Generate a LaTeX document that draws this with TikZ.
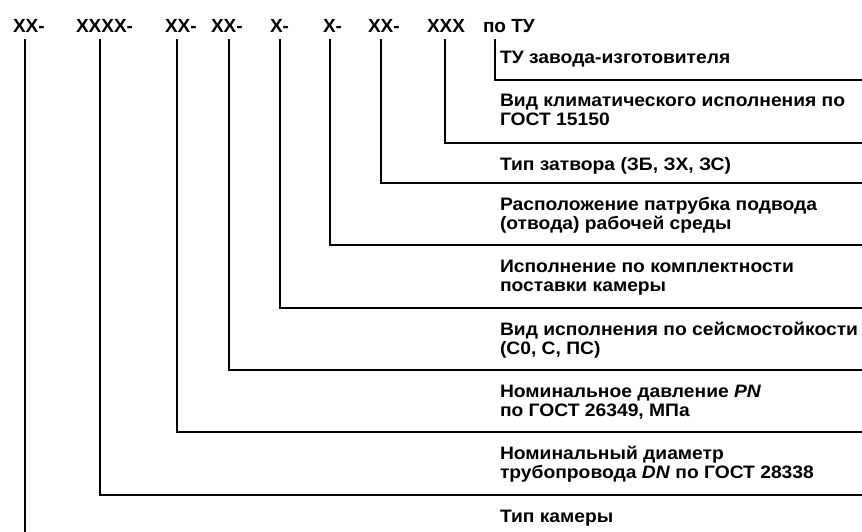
\documentclass[tikz,border=0pt]{standalone}
\usepackage{fontspec}
\setmainfont{Liberation Sans}
\newfontfamily\descfont[FakeStretch=1.07]{Liberation Sans}
\begin{document}
\begin{tikzpicture}[x=1pt,y=-1pt,
  code/.style={font=\fontsize{19}{19}\selectfont\bfseries, inner sep=0pt, outer sep=0pt, anchor=base west},
  desc/.style={font=\descfont\fontsize{18}{19}\selectfont\bfseries, inner sep=0pt, outer sep=0pt, anchor=base west},
  lead/.style={line width=2.8pt, line cap=butt, line join=miter}]
\useasboundingbox (0,0) rectangle (862,532);
% code labels
\node[code] (c1) at (13,33) {XX-};
\node[code] (c2) at (76,33) {XXXX-};
\node[code] (c3) at (165,33) {XX-};
\node[code] (c4) at (211,33) {XX-};
\node[code] (c5) at (270,33) {X-};
\node[code] (c6) at (323,33) {X-};
\node[code] (c7) at (368,33) {XX-};
\node[code] (c8) at (427,33) {XXX};
\node[code] (c9) at (483,33) {по ТУ};
% free ends
\coordinate (e1) at (25,532);
\coordinate (e2) at (862,495);
\coordinate (e3) at (862,432);
\coordinate (e4) at (862,370);
\coordinate (e5) at (862,308);
\coordinate (e6) at (862,245);
\coordinate (e7) at (862,183);
\coordinate (e8) at (862,143);
\coordinate (e9) at (862,80);
% descriptions
\node[desc] (d9)  at (500,64)  {ТУ завода-изготовителя};
\node[desc] (d8a) at (500,107) {Вид климатического исполнения по};
\node[desc] (d8b) at (500,126) {ГОСТ 15150};
\node[desc] (d7)  at (500,170) {Тип затвора (ЗБ, ЗХ, ЗС)};
\node[desc] (d6a) at (500,210) {Расположение патрубка подвода};
\node[desc] (d6b) at (500,229) {(отвода) рабочей среды};
\node[desc] (d5a) at (500,272) {Исполнение по комплектности};
\node[desc] (d5b) at (500,291) {поставки камеры};
\node[desc] (d4a) at (500,335) {Вид исполнения по сейсмостойкости};
\node[desc] (d4b) at (500,354) {(С0, С, ПС)};
\node[desc] (d3a) at (500,397) {Номинальное давление \textit{PN}};
\node[desc] (d3b) at (500,416) {по ГОСТ 26349, МПа};
\node[desc] (d2a) at (500,459) {Номинальный диаметр};
\node[desc] (d2b) at (500,478) {трубопровода \textit{DN} по ГОСТ 28338};
\node[desc] (d1)  at (500,522) {Тип камеры};
% leaders
\draw[lead] ([xshift=12pt]c1.base west) ++(0,6) -- (e1);
\draw[lead] ([xshift=24pt]c2.base west) ++(0,6) |- (e2);
\draw[lead] ([xshift=12pt]c3.base west) ++(0,6) |- (e3);
\draw[lead] ([xshift=18pt]c4.base west) ++(0,6) |- (e4);
\draw[lead] ([xshift=10pt]c5.base west) ++(0,6) |- (e5);
\draw[lead] ([xshift=7pt]c6.base west) ++(0,6) |- (e6);
\draw[lead] ([xshift=13pt]c7.base west) ++(0,6) |- (e7);
\draw[lead] ([xshift=18pt]c8.base west) ++(0,6) |- (e8);
\draw[lead] ([xshift=12pt]c9.base west) ++(0,6) |- (e9);
\end{tikzpicture}
\end{document}
